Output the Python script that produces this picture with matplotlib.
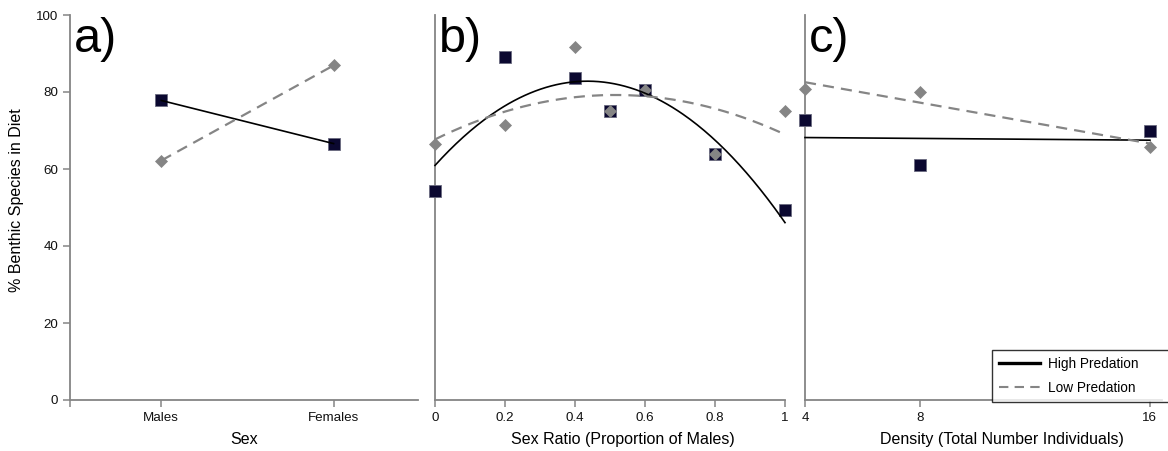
import numpy as np
import matplotlib
matplotlib.use("Agg")
import matplotlib.pyplot as plt
from matplotlib.lines import Line2D

plt.rcParams['font.family'] = ['Liberation Sans', 'DejaVu Sans']

# ---- data ----
sex_categories = ["Males", "Females"]
sex_high = [77.8, 66.6]
sex_low = [62.2, 86.9]

ratio_x = [0, 0.2, 0.4, 0.5, 0.6, 0.8, 1.0]
ratio_high = [54.4, 89.0, 83.6, 75.0, 80.4, 63.9, 49.3]
ratio_low = [66.5, 71.4, 91.7, 75.1, 80.4, 63.8, 75.1]

density_x = [4, 8, 16]
density_high = [72.8, 61.0, 69.8]
density_low = [80.7, 80.0, 65.7]

y_ticks = [0, 20, 40, 60, 80, 100]
ratio_ticks = [0, 0.2, 0.4, 0.6, 0.8, 1]
ratio_ticklabels = ["0", "0.2", "0.4", "0.6", "0.8", "1"]
density_ticks = [4, 8, 16]

# ---- styles ----
SQ_COLOR = '#0b0830'
SQ_EDGE = '#6a6a80'
DM_COLOR = '#858585'
SPINE = '#858585'
DASH = (0, (5.0, 3.2))

W, H = 1168, 451
fig = plt.figure(figsize=(W / 100, H / 100), dpi=100)

def px_axes(left, right, top=15, bottom=400):
    return fig.add_axes([left / W, (H - bottom) / H, (right - left) / W, (bottom - top) / H])

ax_a = px_axes(70, 418)
ax_b = px_axes(435, 785)
ax_c = px_axes(805, 1162)

for ax in (ax_a, ax_b, ax_c):
    for s in ('top', 'right'):
        ax.spines[s].set_visible(False)
    for s in ('left', 'bottom'):
        ax.spines[s].set_color(SPINE)
        ax.spines[s].set_linewidth(1.3)
    ax.set_ylim(0, 100)
    ax.tick_params(axis='both', colors=SPINE, labelcolor='#111111', labelsize=9.6,
                   direction='out', length=5, width=1.1)

def markers(ax, x, hi, lo):
    ax.plot(x, hi, linestyle='none', marker='s', markersize=8.6, markerfacecolor=SQ_COLOR,
            markeredgecolor=SQ_EDGE, markeredgewidth=0.6, zorder=3, clip_on=False)
    ax.plot(x, lo, linestyle='none', marker='D', markersize=6.3, markerfacecolor=DM_COLOR,
            markeredgecolor=DM_COLOR, markeredgewidth=0.5, zorder=4, clip_on=False)

# ---- panel a ----
xa = np.arange(len(sex_categories))
markers(ax_a, xa, sex_high, sex_low)
ax_a.plot(xa, sex_high, color='black', lw=1.2, zorder=5)
ax_a.plot(xa, sex_low, color=DM_COLOR, lw=1.6, linestyle=DASH, zorder=5)
ax_a.set_xlim(-0.53, 1.49)
ax_a.set_xticks(xa)
ax_a.set_xticklabels(sex_categories)
ax_a.set_xticks([-0.53], minor=True)
ax_a.tick_params(axis='x', which='minor', colors=SPINE, length=5, width=1.1, direction='out')
ax_a.set_yticks(y_ticks)
ax_a.set_ylabel("% Benthic Species in Diet", fontsize=11.5)
ax_a.yaxis.set_label_coords(-0.132, 0.52)
ax_a.set_xlabel("Sex", fontsize=11.5)
ax_a.xaxis.set_label_coords(0.5, -0.083)

# ---- panel b ----
markers(ax_b, ratio_x, ratio_high, ratio_low)
xs = np.linspace(0, 1, 200)
ph = np.polyfit(ratio_x, ratio_high, 2)
pl = np.polyfit(ratio_x, ratio_low, 2)
ax_b.plot(xs, np.polyval(ph, xs), color='black', lw=1.2, zorder=5, clip_on=False)
ax_b.plot(xs, np.polyval(pl, xs), color=DM_COLOR, lw=1.6, linestyle=DASH, zorder=5, clip_on=False)
ax_b.set_xlim(0, 1)
ax_b.set_xticks(ratio_ticks)
ax_b.set_xticklabels(ratio_ticklabels)
ax_b.set_yticks([])
ax_b.set_xlabel("Sex Ratio (Proportion of Males)", fontsize=11.5)
ax_b.xaxis.set_label_coords(0.537, -0.083)

# ---- panel c ----
markers(ax_c, density_x, density_high, density_low)
xd = np.linspace(min(density_x), max(density_x), 50)
ch = np.polyfit(density_x, density_high, 1)
cl = np.polyfit(density_x, density_low, 1)
ax_c.plot(xd, np.polyval(ch, xd), color='black', lw=1.2, zorder=5, clip_on=False)
ax_c.plot(xd, np.polyval(cl, xd), color=DM_COLOR, lw=1.6, linestyle=DASH, zorder=5, clip_on=False)
ax_c.set_xlim(4, 16.42)
ax_c.set_xticks(density_ticks)
ax_c.set_yticks([])
ax_c.set_xlabel("Density (Total Number Individuals)", fontsize=11.5)
ax_c.xaxis.set_label_coords(0.552, -0.083)

for ax, lab in ((ax_a, "a)"), (ax_b, "b)"), (ax_c, "c)")):
    bb = ax.get_position()
    fig.text(bb.x0 + 4 / W, (H - 52) / H, lab, fontsize=35, ha='left', va='baseline', color='black')

# ---- legend ----
handles = [Line2D([], [], color='black', lw=2.4),
           Line2D([], [], color=DM_COLOR, lw=1.5, linestyle=(0, (4.5, 3.0)))]
leg = fig.legend(handles, ["High Predation", "Low Predation"], loc='lower left',
                 bbox_to_anchor=(992 / W, (H - 402) / H, 0.2, 60 / H), mode='expand',
                 fontsize=9.8, frameon=True, fancybox=False, edgecolor='black',
                 handlelength=3.0, handletextpad=0.6, labelspacing=0.7,
                 borderpad=0.55, borderaxespad=0)
leg.get_frame().set_linewidth(1.0)
leg.set_zorder(10)

fig.savefig("out.png", dpi=100)
